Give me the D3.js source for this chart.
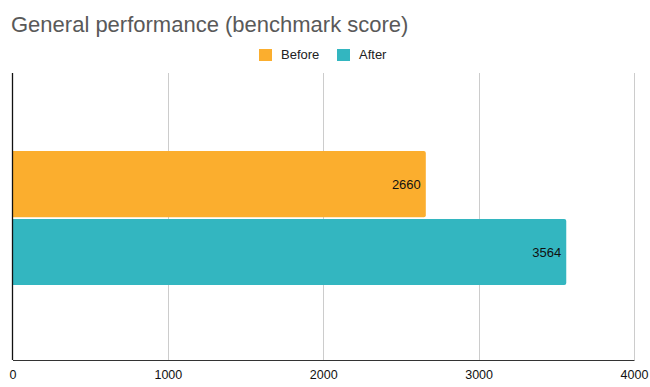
<!DOCTYPE html>
<html>
<head>
<meta charset="utf-8">
<script src="https://cdn.jsdelivr.net/npm/d3@7"></script>
<style>
  body { margin: 0; background: #fff; }
  text { font-family: "Liberation Sans", Arial, sans-serif; }
</style>
</head>
<body>
<div id="chart"></div>
<script>
// Chart data
var categories = ["General performance"];
var seriesNames = ["Before", "After"];
var beforeValues = [2660];
var afterValues = [3564];
var tickValues = [0, 1000, 2000, 3000, 4000];

// Dimensions and settings
var width = 650;
var height = 387;
var margin = {top: 73, right: 16, bottom: 27, left: 12.5};
var colors = ["#fbae2e", "#33b6c0"];

var svg = d3.select("#chart")
    .append("svg")
    .attr("width", width)
    .attr("height", height);

// Scales
var x = d3.scaleLinear()
    .domain([0, 4000])
    .range([margin.left, width - margin.right]);

var y0 = d3.scaleBand()
    .domain(categories)
    .range([margin.top, height - margin.bottom])
    .padding(0.363)
    .align(0.51);

var y1 = d3.scaleBand()
    .domain(seriesNames)
    .range([0, y0.bandwidth()])
    .paddingInner(0.025);

var color = d3.scaleOrdinal().domain(seriesNames).range(colors);

// Gridlines
svg.append("g")
    .selectAll("line")
    .data(tickValues.slice(1))
    .enter()
    .append("line")
    .attr("x1", function(d) { return Math.round(x(d)) + 0.5; })
    .attr("x2", function(d) { return Math.round(x(d)) + 0.5; })
    .attr("y1", margin.top)
    .attr("y2", height - margin.bottom)
    .attr("stroke", "#cccccc")
    .attr("stroke-width", 1);

// Bars
var rows = categories.map(function(c, i) {
    return {category: c, values: [
        {name: seriesNames[0], value: beforeValues[i]},
        {name: seriesNames[1], value: afterValues[i]}
    ]};
});

var groups = svg.selectAll(".group")
    .data(rows)
    .enter()
    .append("g")
    .attr("class", "group")
    .attr("transform", function(d) { return "translate(0," + y0(d.category) + ")"; });

groups.selectAll("path")
    .data(function(d) { return d.values; })
    .enter()
    .append("path")
    .attr("fill", function(d) { return color(d.name); })
    .attr("d", function(d) {
        var x0 = x(0), x1 = x(d.value), yt = y1(d.name), h = y1.bandwidth(), r = 2;
        return "M" + x0 + "," + yt +
            "H" + (x1 - r) + "Q" + x1 + "," + yt + " " + x1 + "," + (yt + r) +
            "V" + (yt + h - r) + "Q" + x1 + "," + (yt + h) + " " + (x1 - r) + "," + (yt + h) +
            "H" + x0 + "Z";
    });

// Value labels
groups.selectAll(".label")
    .data(function(d) { return d.values; })
    .enter()
    .append("text")
    .attr("class", "label")
    .attr("x", function(d) { return x(d.value) - 5; })
    .attr("y", function(d) { return y1(d.name) + y1.bandwidth() / 2; })
    .attr("dy", "0.35em")
    .attr("text-anchor", "end")
    .attr("font-size", "13px")
    .attr("fill", "#111")
    .text(function(d) { return d.value; });

// Axes
var xAxis = d3.axisBottom(x)
    .tickValues(tickValues)
    .tickFormat(d3.format("d"))
    .tickSize(0)
    .tickPadding(10);

var gx = svg.append("g")
    .attr("transform", "translate(0," + (height - margin.bottom) + ")")
    .call(xAxis);

gx.select(".domain").attr("stroke", "#333").attr("stroke-width", 1.2);
gx.selectAll("text")
    .attr("font-size", "12.5px")
    .attr("fill", "#111")
    .attr("font-family", "'Liberation Sans', Arial, sans-serif");

// Left axis line
svg.append("line")
    .attr("x1", x(0))
    .attr("x2", x(0))
    .attr("y1", margin.top)
    .attr("y2", height - margin.bottom)
    .attr("stroke", "#111")
    .attr("stroke-width", 1.3);

// Title
svg.append("text")
    .attr("x", 11)
    .attr("y", 31.5)
    .attr("font-size", "22px")
    .attr("fill", "#595959")
    .text("General performance (benchmark score)");

// Legend
var legendX = [259, 337];
var legend = svg.selectAll(".legend")
    .data(seriesNames)
    .enter()
    .append("g")
    .attr("class", "legend")
    .attr("transform", function(d, i) { return "translate(" + legendX[i] + ",49)"; });

legend.append("rect")
    .attr("width", 13)
    .attr("height", 12)
    .attr("fill", function(d) { return color(d); });

legend.append("text")
    .attr("x", 22)
    .attr("y", 10)
    .attr("font-size", "13px")
    .attr("fill", "#222")
    .text(function(d) { return d; });
</script>
</body>
</html>
